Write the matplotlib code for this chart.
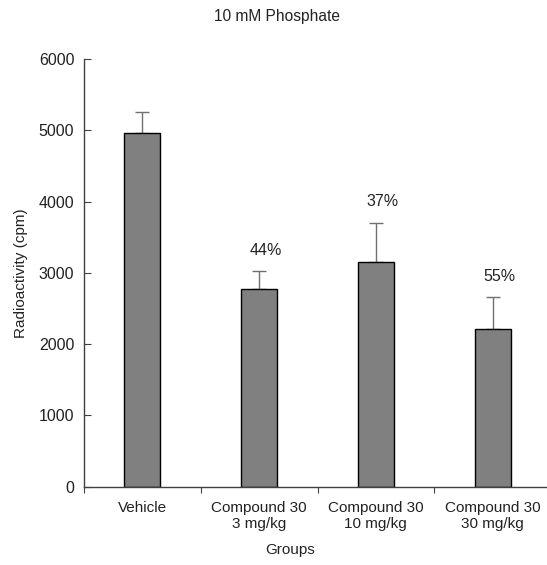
import matplotlib.pyplot as plt
import numpy as np

plt.rcParams['font.family'] = ['Liberation Sans', 'DejaVu Sans']

groups = ["Vehicle", "Compound 30\n3 mg/kg", "Compound 30\n10 mg/kg", "Compound 30\n30 mg/kg"]
means = [4960, 2770, 3150, 2215]
errs = [300, 250, 550, 440]
pct_labels = ["", "44%", "37%", "55%"]
pct_y = [0, 3310, 4000, 2945]

W, H = 547, 565
fig = plt.figure(figsize=(W / 100, H / 100), dpi=100)
# x-axis from px 84 to 551, y-axis from px 59 to 487
ax = fig.add_axes([84 / W, 1 - 486.7 / H, (551 - 84) / W, (486.7 - 59) / H])

x = np.arange(len(groups))
ax.bar(x, means, width=0.31, color="#808080", edgecolor="black", linewidth=1.0, zorder=2)
ax.errorbar(x, means, yerr=[np.zeros(len(errs)), errs], fmt="none",
            ecolor="#707070", elinewidth=1.0, capsize=5, capthick=1.0, zorder=1)

for xi, lab, yy in zip(x, pct_labels, pct_y):
    if lab:
        ax.text(xi + 0.06, yy, lab, ha="center", va="center", fontsize=11.5, color="#222222")

ax.set_xlim(-0.5, 3.5)
ax.set_ylim(0, 6000)
ax.set_yticks(range(0, 6001, 1000))
ax.set_xticks(np.arange(-0.5, 3.6, 1.0), minor=False)
ax.set_xticklabels([])
ax.set_xticks(x, minor=True)
ax.set_xticklabels(groups, minor=True)
ax.tick_params(axis="x", which="major", direction="out", length=4, color="#404040")
ax.tick_params(axis="x", which="minor", length=0, labelsize=11, pad=10, labelcolor="#222222")
ax.tick_params(axis="y", direction="in", length=5, color="#404040", labelsize=11.5, pad=7,
               labelcolor="#222222")

for s in ["top", "right"]:
    ax.spines[s].set_visible(False)
for s in ["left", "bottom"]:
    ax.spines[s].set_color("#404040")
    ax.spines[s].set_linewidth(1.0)

ax.set_ylabel("Radioactivity (cpm)", fontsize=11, color="#222222", labelpad=8)
fig.text(290 / W, 1 - 550 / H, "Groups", ha="center", va="center", fontsize=11, color="#222222")
fig.text(277 / W, 1 - 16 / H, "10 mM Phosphate", ha="center", va="center", fontsize=11.2, color="#222222")

fig.savefig("out.png", dpi=100)
